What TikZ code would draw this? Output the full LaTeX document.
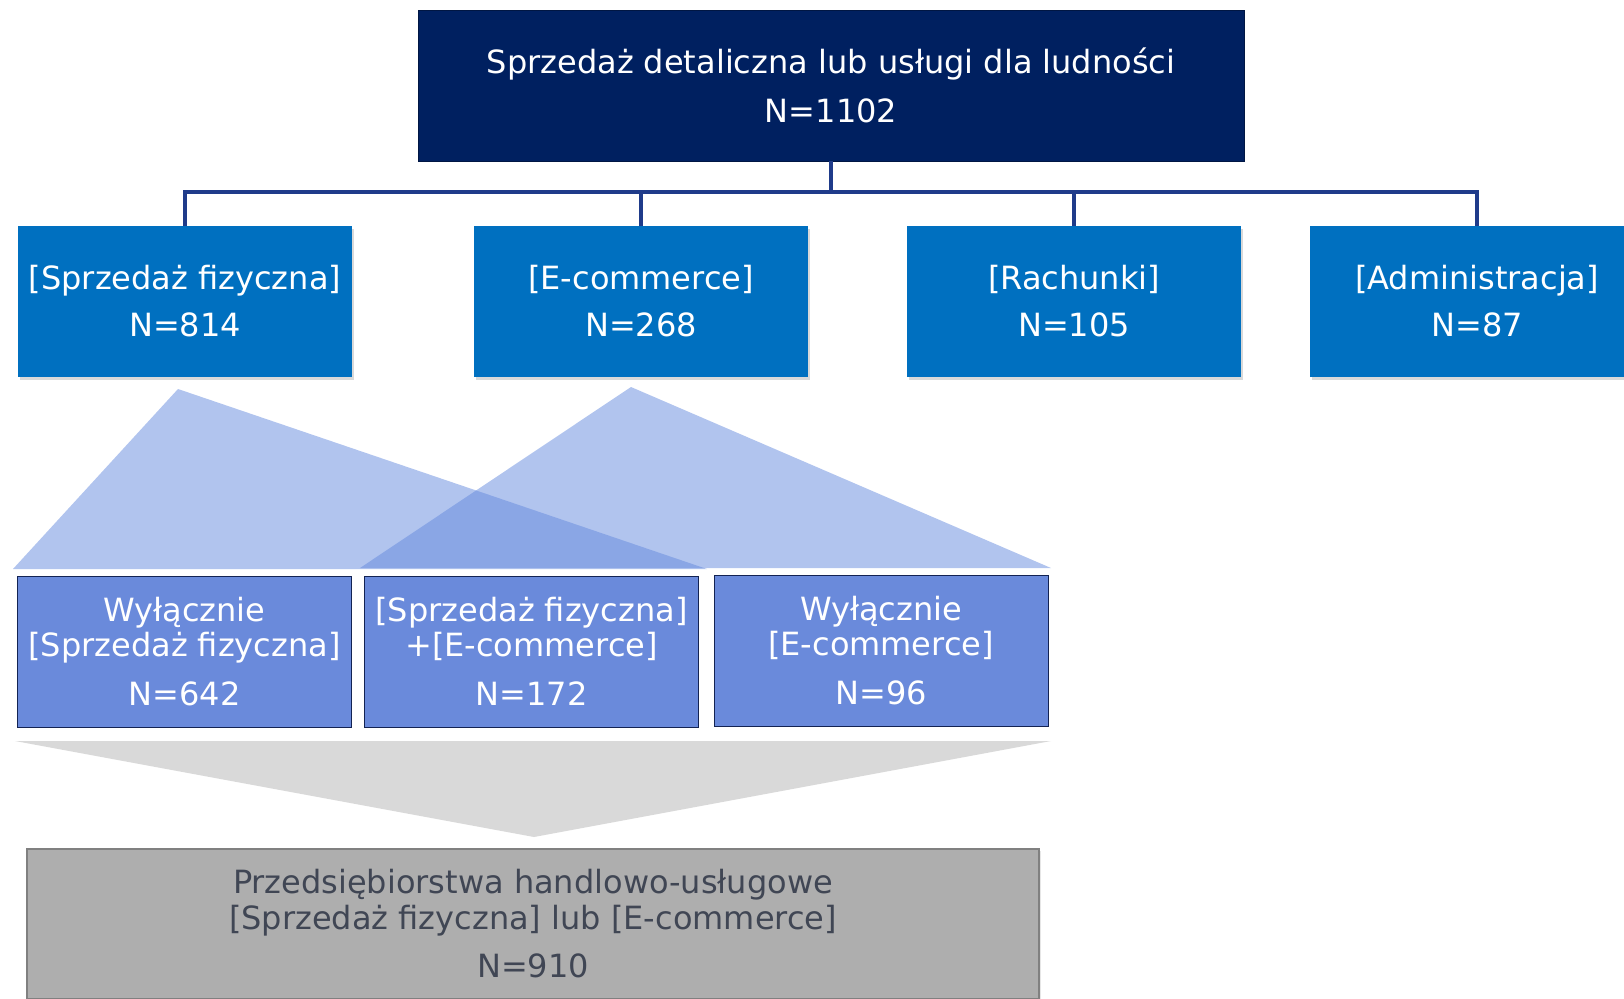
\documentclass[tikz,border=0pt]{standalone}
\usepackage{fontspec}
\setmainfont{DejaVu Sans}
\usetikzlibrary{shadows}

\definecolor{navy}{HTML}{002060}
\definecolor{linkblue}{HTML}{1F3B8A}
\definecolor{catblue}{HTML}{0070C0}
\definecolor{tintblue}{HTML}{6A8ADB}
\definecolor{wedgeblue}{HTML}{6389DD}
\definecolor{chevgray}{HTML}{D9D9D9}
\definecolor{sumgray}{HTML}{AEAEAE}
\definecolor{sumtext}{HTML}{404654}

\tikzset{
  topbox/.style={rectangle, fill=navy, draw=navy!70!black, line width=0.4pt,
    minimum width=413pt, minimum height=75.5pt, text=white, align=center,
    font=\fontsize{16}{24.5}\selectfont},
  catbox/.style={rectangle, fill=catblue, minimum width=167pt, minimum height=75.5pt,
    text=white, align=center, font=\fontsize{16}{23.5}\selectfont,
    drop shadow={shadow xshift=1.2pt, shadow yshift=-1.5pt, opacity=0.3}},
  splitbox/.style={rectangle, fill=tintblue, draw=linkblue!60!black, line width=0.5pt,
    minimum width=167pt, minimum height=75.5pt, text=white, align=center,
    font=\fontsize{16}{17.5}\selectfont},
  sumbox/.style={rectangle, fill=sumgray, draw=black!50, line width=1pt,
    minimum width=506pt, minimum height=75pt, text=sumtext, align=center,
    font=\fontsize{16}{18}\selectfont,
    drop shadow={shadow xshift=1pt, shadow yshift=-1pt, opacity=0.2}},
  conn/.style={draw=linkblue, line width=2pt},
  wedge/.style={fill=wedgeblue, fill opacity=0.5, draw=none},
}

\begin{document}
\begin{tikzpicture}[x=0.5pt, y=-0.5pt]
\path[use as bounding box] (0,0) rectangle (1624,998);
\clip (0,0) rectangle (1624,998);

% top level
\node[topbox] (root) at (831,85.5) {Sprzedaż detaliczna lub usługi dla ludności\\N=1102};

% channels
\node[catbox] (fiz) at (185,301.5)  {[Sprzedaż fizyczna]\\N=814};
\node[catbox] (ecom) at (641,301.5) {[E-commerce]\\N=268};
\node[catbox] (rach) at (1074,301.5) {[Rachunki]\\N=105};
\node[catbox] (adm) at (1477,301.5) {[Administracja]\\N=87};

% tree lines
\coordinate (bar) at (0,192);
\draw[conn] (root.south) -- (root.south |- bar);
\draw[conn] (fiz.north) -- (fiz.north |- bar) -- (adm.north |- bar) -- (adm.north);
\foreach \c in {ecom,rach} { \draw[conn] (\c.north) -- (\c.north |- bar); }

% split of the two channels
\fill[wedge] (178,389) -- (707,569) -- (13,569) -- cycle;
\fill[wedge] (631,387) -- (1051,568) -- (360,568) -- cycle;

\node[splitbox] (onlyfiz) at (184.5,651.5) {Wyłącznie\\{}[Sprzedaż fizyczna]\\[7pt]N=642};
\node[splitbox] (both) at (531.5,651.5) {[Sprzedaż fizyczna]\\+[E-commerce]\\[7pt]N=172};
\node[splitbox] (onlyecom) at (881,651) {Wyłącznie\\{}[E-commerce]\\[7pt]N=96};

% merge
\fill[chevgray] (15,741) -- (1051,741) -- (534,837) -- cycle;
\node[sumbox] (total) at (533,924) {Przedsiębiorstwa handlowo-usługowe\\{}[Sprzedaż fizyczna] lub [E-commerce]\\[6pt]N=910};
\end{tikzpicture}
\end{document}
